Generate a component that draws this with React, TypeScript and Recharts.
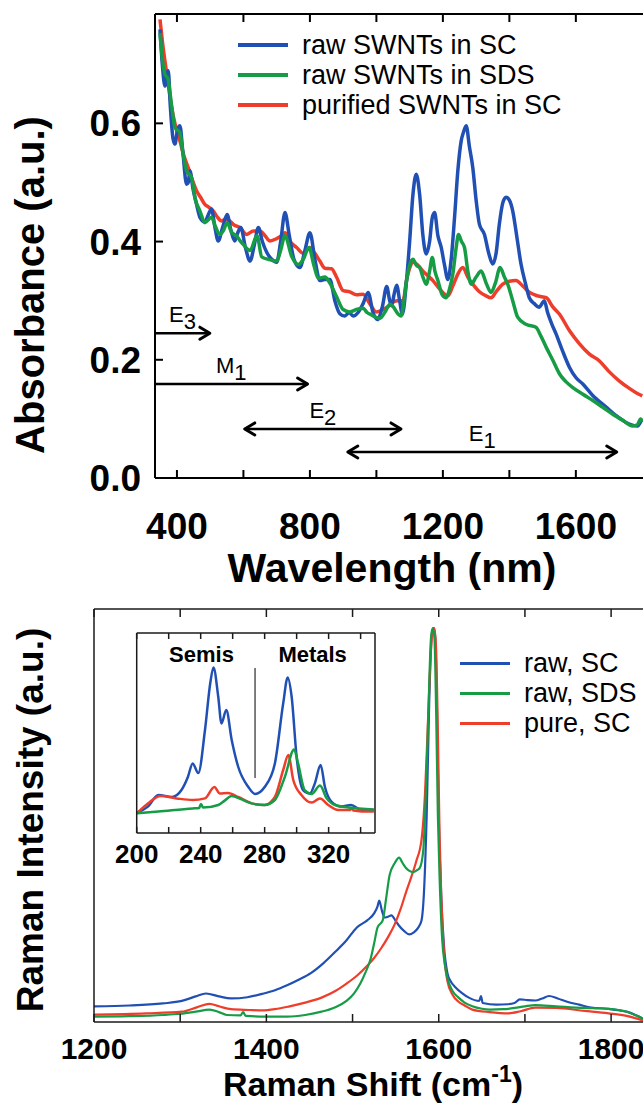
import React from 'react';
import { LineChart, Line, XAxis, YAxis, ReferenceLine, ReferenceDot, Legend } from 'recharts';

const FONT = "'Liberation Sans', Arial, Helvetica, sans-serif";
const BLUE = '#2050b4';
const GREEN = '#179c46';
const RED = '#ef3d2c';

// absorbance spectra: [wavelength nm, absorbance a.u.]
const absRawSC = [
  [349, 0.759], [356, 0.7], [364, 0.663], [370, 0.685], [374, 0.689], [380, 0.63], [388, 0.575], [394, 0.565],
  [402, 0.59], [409, 0.596], [418, 0.55], [429, 0.497], [434, 0.5], [439, 0.52], [448, 0.49], [459, 0.463],
  [470, 0.44], [484, 0.433], [494, 0.445], [504, 0.455], [514, 0.425], [524, 0.401], [538, 0.425], [551, 0.446],
  [562, 0.42], [574, 0.401], [583, 0.415], [592, 0.424], [606, 0.39], [620, 0.367], [633, 0.395], [645, 0.424],
  [657, 0.4], [670, 0.382], [685, 0.37], [700, 0.365], [712, 0.4], [725, 0.449], [738, 0.41], [752, 0.37],
  [770, 0.356], [785, 0.385], [800, 0.415], [815, 0.37], [830, 0.334], [845, 0.336], [860, 0.336], [875, 0.3],
  [890, 0.278], [905, 0.274], [918, 0.28], [930, 0.274], [945, 0.28], [960, 0.295], [975, 0.314], [990, 0.28],
  [1003, 0.268], [1018, 0.29], [1031, 0.324], [1040, 0.3], [1046, 0.292], [1053, 0.31], [1061, 0.326], [1070, 0.3],
  [1078, 0.277], [1090, 0.33], [1100, 0.4], [1110, 0.48], [1120, 0.514], [1130, 0.48], [1140, 0.41], [1150, 0.379],
  [1160, 0.4], [1168, 0.44], [1175, 0.449], [1185, 0.41], [1195, 0.39], [1205, 0.36], [1215, 0.336], [1225, 0.37],
  [1235, 0.44], [1245, 0.52], [1255, 0.57], [1262, 0.585], [1270, 0.596], [1280, 0.56], [1290, 0.525], [1300, 0.47],
  [1310, 0.429], [1325, 0.412], [1338, 0.38], [1350, 0.362], [1360, 0.38], [1370, 0.43], [1380, 0.465], [1390, 0.475],
  [1400, 0.47], [1410, 0.452], [1422, 0.41], [1435, 0.362], [1448, 0.33], [1460, 0.305], [1475, 0.295], [1490, 0.289],
  [1498, 0.295], [1505, 0.3], [1515, 0.28], [1528, 0.26], [1541, 0.243], [1560, 0.215], [1581, 0.187], [1600, 0.17],
  [1621, 0.159], [1650, 0.14], [1691, 0.12], [1720, 0.106], [1751, 0.094], [1786, 0.088], [1795, 0.095], [1800, 0.1],
];
const absRawSDS = [
  [349, 0.753], [356, 0.71], [364, 0.683], [373, 0.675], [384, 0.63], [394, 0.593], [409, 0.584], [418, 0.55],
  [429, 0.52], [444, 0.508], [456, 0.47], [469, 0.452], [484, 0.432], [504, 0.441], [516, 0.425], [529, 0.412],
  [541, 0.42], [551, 0.432], [565, 0.415], [579, 0.41], [589, 0.402], [600, 0.395], [620, 0.385], [641, 0.41],
  [655, 0.374], [675, 0.37], [700, 0.367], [712, 0.385], [725, 0.41], [745, 0.375], [765, 0.361], [780, 0.37],
  [797, 0.39], [812, 0.36], [825, 0.338], [845, 0.34], [860, 0.33], [880, 0.307], [900, 0.285], [920, 0.281],
  [940, 0.285], [960, 0.287], [972, 0.28], [985, 0.276], [998, 0.272], [1010, 0.27], [1025, 0.28], [1041, 0.294],
  [1050, 0.29], [1066, 0.277], [1074, 0.274], [1083, 0.3], [1091, 0.335], [1100, 0.36], [1110, 0.37], [1120, 0.36],
  [1130, 0.356], [1140, 0.34], [1150, 0.328], [1160, 0.35], [1168, 0.373], [1176, 0.35], [1185, 0.334], [1198, 0.31],
  [1210, 0.305], [1220, 0.32], [1230, 0.345], [1240, 0.39], [1247, 0.412], [1256, 0.4], [1265, 0.39], [1275, 0.35],
  [1285, 0.328], [1300, 0.34], [1315, 0.35], [1330, 0.33], [1345, 0.314], [1358, 0.33], [1372, 0.356], [1385, 0.34],
  [1395, 0.328], [1410, 0.3], [1425, 0.272], [1450, 0.26], [1480, 0.255], [1495, 0.24], [1511, 0.221], [1530, 0.2],
  [1551, 0.176], [1570, 0.163], [1591, 0.153], [1620, 0.142], [1651, 0.131], [1680, 0.12], [1711, 0.108], [1740, 0.098],
  [1771, 0.088], [1785, 0.09], [1795, 0.1], [1800, 0.095],
];
const absPureSC = [
  [349, 0.776], [356, 0.74], [364, 0.705], [374, 0.665], [384, 0.627], [396, 0.595], [409, 0.57], [421, 0.545],
  [434, 0.525], [446, 0.505], [459, 0.486], [471, 0.475], [484, 0.463], [496, 0.458], [509, 0.452], [521, 0.442],
  [534, 0.435], [547, 0.438], [559, 0.435], [572, 0.428], [589, 0.424], [610, 0.412], [630, 0.418], [650, 0.418],
  [665, 0.41], [680, 0.401], [700, 0.405], [715, 0.41], [725, 0.415], [740, 0.4], [760, 0.39], [780, 0.38],
  [800, 0.39], [815, 0.38], [830, 0.367], [845, 0.355], [865, 0.354], [880, 0.34], [900, 0.317], [920, 0.315],
  [940, 0.31], [960, 0.311], [980, 0.295], [1000, 0.281], [1020, 0.285], [1040, 0.292], [1051, 0.298], [1065, 0.3],
  [1080, 0.3], [1091, 0.335], [1100, 0.355], [1111, 0.365], [1125, 0.36], [1140, 0.35], [1155, 0.342], [1170, 0.334],
  [1190, 0.32], [1215, 0.308], [1230, 0.325], [1245, 0.345], [1260, 0.356], [1275, 0.34], [1290, 0.328], [1310, 0.315],
  [1330, 0.308], [1345, 0.305], [1360, 0.315], [1380, 0.328], [1400, 0.333], [1420, 0.334], [1440, 0.325], [1461, 0.314],
  [1485, 0.308], [1511, 0.305], [1530, 0.29], [1551, 0.277], [1580, 0.25], [1611, 0.227], [1640, 0.21], [1671, 0.198],
  [1700, 0.18], [1731, 0.164], [1760, 0.152], [1785, 0.143], [1800, 0.139],
];
const absXTicks = [400, 600, 800, 1000, 1200, 1400, 1600];
const absXLabels = [400, 800, 1200, 1600];
const absYTicks = [0, 0.2, 0.4, 0.6];
const absNames = ['raw SWNTs in SC', 'raw SWNTs in SDS', 'purified SWNTs in SC'];

// transition bands drawn as arrows under the spectra
const bandName = ['E', 'M', 'E', 'E'];
const bandSub = ['3', '1', '2', '1'];
const bandFrom = [334, 334, 604, 914];
const bandTo = [499, 793, 1074, 1723];
const bandLevel = [0.245, 0.159, 0.083, 0.044];
const bandBoth = [false, false, true, true];

// Raman G band: [shift cm-1, intensity a.u.]
const ramanRawSC = [
  [1200, 0.038], [1241, 0.04], [1280, 0.045], [1302, 0.051], [1318, 0.062], [1330, 0.069], [1345, 0.062], [1359, 0.057],
  [1378, 0.06], [1395, 0.068], [1410, 0.077], [1424, 0.089], [1438, 0.103], [1452, 0.119], [1466, 0.142], [1480, 0.17],
  [1493, 0.198], [1505, 0.229], [1517, 0.246], [1525, 0.263], [1529, 0.28], [1531, 0.294], [1534, 0.27], [1537, 0.253],
  [1541, 0.255], [1545, 0.258], [1550, 0.245], [1554, 0.233], [1560, 0.22], [1566, 0.212], [1571, 0.217], [1576, 0.228],
  [1580, 0.246], [1583, 0.32], [1586, 0.5], [1589, 0.78], [1592, 0.94], [1594, 0.954], [1596, 0.93], [1598, 0.75],
  [1600, 0.5], [1603, 0.3], [1606, 0.186], [1610, 0.119], [1614, 0.098], [1619, 0.085], [1627, 0.07], [1635, 0.059],
  [1647, 0.051], [1649, 0.063], [1651, 0.046], [1667, 0.042], [1680, 0.043], [1688, 0.046], [1694, 0.055], [1703, 0.053],
  [1712, 0.052], [1720, 0.057], [1728, 0.063], [1738, 0.057], [1749, 0.049], [1763, 0.042], [1777, 0.035], [1797, 0.032],
  [1810, 0.028], [1818, 0.025], [1830, 0.015], [1837, 0.008],
];
const ramanRawSDS = [
  [1200, 0.013], [1240, 0.014], [1281, 0.017], [1300, 0.02], [1318, 0.025], [1334, 0.03], [1345, 0.024], [1354, 0.017],
  [1370, 0.016], [1373, 0.024], [1376, 0.015], [1400, 0.013], [1424, 0.013], [1445, 0.017], [1464, 0.025], [1480, 0.036],
  [1493, 0.051], [1502, 0.07], [1509, 0.093], [1515, 0.12], [1521, 0.153], [1525, 0.19], [1529, 0.229], [1535, 0.246],
  [1539, 0.3], [1543, 0.356], [1549, 0.385], [1554, 0.398], [1558, 0.385], [1562, 0.373], [1566, 0.366], [1570, 0.363],
  [1575, 0.368], [1578, 0.373], [1582, 0.415], [1585, 0.55], [1588, 0.75], [1591, 0.93], [1593, 0.954], [1595, 0.93],
  [1597, 0.75], [1599, 0.5], [1601, 0.35], [1604, 0.2], [1607, 0.14], [1610, 0.107], [1616, 0.075], [1623, 0.059],
  [1630, 0.047], [1639, 0.038], [1650, 0.032], [1659, 0.03], [1675, 0.031], [1688, 0.034], [1700, 0.038], [1712, 0.041],
  [1736, 0.038], [1769, 0.034], [1797, 0.032], [1818, 0.025], [1830, 0.015], [1837, 0.008],
];
const ramanPureSC = [
  [1200, 0.018], [1261, 0.021], [1302, 0.025], [1320, 0.036], [1334, 0.044], [1345, 0.038], [1359, 0.031], [1380, 0.029],
  [1395, 0.028], [1410, 0.031], [1427, 0.038], [1445, 0.047], [1464, 0.059], [1480, 0.075], [1493, 0.093], [1505, 0.112],
  [1517, 0.136], [1525, 0.155], [1533, 0.178], [1541, 0.205], [1549, 0.237], [1556, 0.275], [1562, 0.314], [1568, 0.35],
  [1574, 0.39], [1580, 0.441], [1584, 0.55], [1587, 0.7], [1590, 0.86], [1593, 0.95], [1595, 0.954], [1597, 0.9],
  [1599, 0.7], [1601, 0.45], [1603, 0.3], [1606, 0.17], [1610, 0.1], [1616, 0.066], [1623, 0.049], [1630, 0.04],
  [1639, 0.03], [1659, 0.024], [1681, 0.021], [1695, 0.026], [1712, 0.035], [1736, 0.034], [1769, 0.027], [1797, 0.021],
  [1818, 0.015], [1837, 0.004],
];
const ramanXTicks = [1200, 1300, 1400, 1500, 1600, 1700, 1800];
const ramanXLabels = [1200, 1400, 1600, 1800];
const ramanNames = ['raw, SC', 'raw, SDS', 'pure, SC'];

// inset: radial breathing mode region
const rbmRawSC = [
  [200, 0.102], [207, 0.132], [213.5, 0.19], [222, 0.18], [228, 0.215], [232, 0.28], [235, 0.348], [238.5, 0.3],
  [242.7, 0.515], [246, 0.75], [248, 0.828], [251, 0.68], [253, 0.548], [256, 0.615], [259.4, 0.465], [263.5, 0.33],
  [269.8, 0.23], [274, 0.195], [280, 0.23], [286.4, 0.348], [291.6, 0.648], [294.4, 0.778], [296.9, 0.68], [300, 0.38],
  [304, 0.215], [308.3, 0.198], [311.4, 0.248], [315, 0.34], [317.7, 0.23], [321.9, 0.156], [328, 0.132], [334, 0.14],
  [340.6, 0.115], [348.3, 0.115],
];
const rbmRawSDS = [
  [200, 0.098], [213.5, 0.107], [235, 0.123], [239, 0.125], [240.2, 0.145], [241.5, 0.127], [251, 0.14], [255, 0.162],
  [259.4, 0.185], [265.6, 0.168], [271.9, 0.148], [280, 0.14], [286.4, 0.165], [292.7, 0.282], [298.4, 0.418], [300.9, 0.348],
  [305, 0.215], [309.4, 0.195], [314.6, 0.237], [318.8, 0.173], [324, 0.14], [332.3, 0.128], [348.3, 0.118],
];
const rbmPureSC = [
  [200, 0.098], [207, 0.148], [215, 0.185], [225, 0.173], [235, 0.165], [242.7, 0.173], [248.6, 0.23], [251.9, 0.198],
  [257, 0.2], [263.5, 0.18], [271.9, 0.148], [280, 0.14], [286.4, 0.18], [291.6, 0.315], [294.8, 0.39], [297.9, 0.265],
  [303, 0.19], [309.4, 0.152], [314.6, 0.173], [319.8, 0.14], [326, 0.115], [333.5, 0.115], [334.4, 0.125], [335.5, 0.112],
  [340.6, 0.108], [348.3, 0.108],
];
const rbmTicks = [200, 220, 240, 260, 280, 300, 320, 340];
const rbmLabels = [200, 240, 280, 320];
const rbmSplit = 274;

const pts = (a: number[][]) => a.map(([x, y]) => ({ x, y }));

const blank = () => <g />;

const xTick = (labels: number[], size: number, dy: number) => (p: any) => {
  const v = p.payload.value;
  if (!labels.includes(v)) return <g />;
  return (
    <text x={p.x} y={p.y + dy} textAnchor="middle" fontFamily={FONT} fontWeight="bold" fontSize={size} fill="#000">
      {v}
    </text>
  );
};

const absYTick = (p: any) => (
  <text x={p.x - 22} y={p.y + 13} textAnchor="end" fontFamily={FONT} fontWeight="bold" fontSize={37} fill="#000">
    {Number(p.payload.value).toFixed(1)}
  </text>
);

const legendBox = (names: string[], colors: string[], lw: number) => () => (
  <div style={{ fontFamily: FONT, fontSize: 27, color: '#000', whiteSpace: 'nowrap' }}>
    {names.map((n, i) => (
      <div key={n} style={{ display: 'flex', alignItems: 'center', height: 30 }}>
        <span style={{ display: 'inline-block', width: 50, height: lw, background: colors[i], marginRight: 14 }} />
        <span>{n}</span>
      </div>
    ))}
  </div>
);

const arrowShape = (i: number) => (p: any) => {
  const { x1, y1, x2, y2 } = p;
  const head = (x: number, y: number, dir: number) => (
    <polyline
      points={`${x - dir * 10},${y - 6} ${x},${y} ${x - dir * 10},${y + 6}`}
      fill="none"
      stroke="#000"
      strokeWidth={3}
      strokeLinecap="round"
      strokeLinejoin="round"
    />
  );
  return (
    <g>
      <line x1={x1} y1={y1} x2={x2} y2={y2} stroke="#000" strokeWidth={2.5} />
      {head(x2, y2, 1)}
      {bandBoth[i] && head(x1, y1, -1)}
      <text x={(x1 + x2) / 2} y={y1 - 11} textAnchor="middle" fontFamily={FONT} fontSize={22} fill="#000">
        {bandName[i]}
        <tspan dy={7}>{bandSub[i]}</tspan>
      </text>
    </g>
  );
};

const frame = { stroke: '#000', strokeWidth: 2 };

function AbsorbanceChart() {
  return (
    <LineChart width={643} height={600} margin={{ top: 0, right: 0, bottom: 0, left: 0 }}>
      <XAxis
        xAxisId="b"
        type="number"
        dataKey="x"
        domain={[334, 1802]}
        allowDataOverflow
        ticks={absXTicks}
        interval={0}
        height={122}
        tickSize={-8}
        tickMargin={0}
        axisLine={frame}
        tickLine={frame}
        tick={xTick(absXLabels, 37, 69)}
        label={(p: any) => (
          <text
            x={p.viewBox.x + p.viewBox.width / 2 - 7}
            y={p.viewBox.y + 104}
            textAnchor="middle"
            fontFamily={FONT}
            fontWeight="bold"
            fontSize={41}
            fill="#000"
          >
            Wavelength (nm)
          </text>
        )}
      />
      <XAxis
        xAxisId="t"
        orientation="top"
        type="number"
        dataKey="x"
        domain={[334, 1802]}
        allowDataOverflow
        ticks={absXTicks}
        interval={0}
        height={14}
        tickSize={-8}
        axisLine={frame}
        tickLine={frame}
        tick={blank}
      />
      <YAxis
        yAxisId="l"
        type="number"
        domain={[0, 0.785]}
        allowDataOverflow
        ticks={absYTicks}
        interval={0}
        width={155}
        tickSize={-8}
        tickMargin={0}
        axisLine={frame}
        tickLine={frame}
        tick={absYTick}
        label={(p: any) => {
          const cx = p.viewBox.x + 30;
          const cy = p.viewBox.y + 271;
          return (
            <text
              x={cx}
              y={cy}
              transform={`rotate(-90, ${cx}, ${cy})`}
              textAnchor="middle"
              dominantBaseline="central"
              fontFamily={FONT}
              fontWeight="bold"
              fontSize={40}
              fill="#000"
            >
              Absorbance (a.u.)
            </text>
          );
        }}
      />
      <YAxis
        yAxisId="r"
        orientation="right"
        type="number"
        domain={[0, 0.785]}
        allowDataOverflow
        ticks={absYTicks}
        interval={0}
        width={0}
        tickSize={-8}
        axisLine={frame}
        tickLine={frame}
        tick={blank}
      />
      {bandFrom.map((f, i) => (
        <ReferenceLine
          key={i}
          xAxisId="b"
          yAxisId="l"
          ifOverflow="visible"
          segment={[
            { x: f, y: bandLevel[i] },
            { x: bandTo[i], y: bandLevel[i] },
          ]}
          shape={arrowShape(i)}
        />
      ))}
      <Line xAxisId="b" yAxisId="l" data={pts(absPureSC)} dataKey="y" type="monotone" stroke={RED} strokeWidth={3.5} dot={false} activeDot={false} isAnimationActive={false} />
      <Line xAxisId="b" yAxisId="l" data={pts(absRawSC)} dataKey="y" type="monotone" stroke={BLUE} strokeWidth={3.5} dot={false} activeDot={false} isAnimationActive={false} />
      <Line xAxisId="b" yAxisId="l" data={pts(absRawSDS)} dataKey="y" type="monotone" stroke={GREEN} strokeWidth={3.5} dot={false} activeDot={false} isAnimationActive={false} />
      <Legend
        layout="vertical"
        align="center"
        verticalAlign="middle"
        content={legendBox(absNames, [BLUE, GREEN, RED], 4)}
        wrapperStyle={{ left: 238, top: 30, width: 380 }}
      />
    </LineChart>
  );
}

const thin = { stroke: '#1a1a1a', strokeWidth: 1.5 };

function RamanChart() {
  return (
    <LineChart width={643} height={503} margin={{ top: 0, right: 0, bottom: 0, left: 0 }}>
      <XAxis
        xAxisId="b"
        type="number"
        dataKey="x"
        domain={[1200, 1837]}
        allowDataOverflow
        ticks={ramanXTicks}
        interval={0}
        height={81}
        tickSize={-8}
        tickMargin={0}
        axisLine={thin}
        tickLine={thin}
        tick={xTick(ramanXLabels, 30, 45)}
        label={(p: any) => (
          <text
            x={p.viewBox.x + 279}
            y={p.viewBox.y + 74}
            textAnchor="middle"
            fontFamily={FONT}
            fontWeight="bold"
            fontSize={34}
            fill="#000"
          >
            Raman Shift (cm
            <tspan fontSize={23} dy={-14}>-1</tspan>
            <tspan dy={14}>)</tspan>
          </text>
        )}
      />
      <XAxis
        xAxisId="t"
        orientation="top"
        type="number"
        dataKey="x"
        domain={[1200, 1837]}
        allowDataOverflow
        ticks={ramanXTicks}
        interval={0}
        height={9}
        tickSize={-8}
        axisLine={thin}
        tickLine={thin}
        tick={blank}
      />
      <YAxis
        yAxisId="l"
        type="number"
        domain={[0, 1]}
        allowDataOverflow
        width={94}
        axisLine={thin}
        tickLine={false}
        tick={false}
        label={(p: any) => {
          const cx = p.viewBox.x + 30;
          const cy = p.viewBox.y + 211;
          return (
            <text
              x={cx}
              y={cy}
              transform={`rotate(-90, ${cx}, ${cy})`}
              textAnchor="middle"
              dominantBaseline="central"
              fontFamily={FONT}
              fontWeight="bold"
              fontSize={37}
              fill="#000"
            >
              Raman Intensity (a.u.)
            </text>
          );
        }}
      />
      <Line xAxisId="b" yAxisId="l" data={pts(ramanRawSC)} dataKey="y" type="monotone" stroke={BLUE} strokeWidth={2.2} dot={false} activeDot={false} isAnimationActive={false} />
      <Line xAxisId="b" yAxisId="l" data={pts(ramanPureSC)} dataKey="y" type="monotone" stroke={RED} strokeWidth={2.2} dot={false} activeDot={false} isAnimationActive={false} />
      <Line xAxisId="b" yAxisId="l" data={pts(ramanRawSDS)} dataKey="y" type="monotone" stroke={GREEN} strokeWidth={2.2} dot={false} activeDot={false} isAnimationActive={false} />
      <Legend
        layout="vertical"
        align="center"
        verticalAlign="middle"
        content={legendBox(ramanNames, [BLUE, GREEN, RED], 3)}
        wrapperStyle={{ left: 460, top: 48, width: 200 }}
      />
    </LineChart>
  );
}

const boldText = (label: string) => (p: any) => (
  <text x={p.cx} y={p.cy} textAnchor="middle" fontFamily={FONT} fontWeight="bold" fontSize={22} fill="#000">
    {label}
  </text>
);

function RbmInset() {
  return (
    <LineChart width={290} height={260} margin={{ top: 0, right: 0, bottom: 0, left: 0 }}>
      <XAxis
        xAxisId="b"
        type="number"
        dataKey="x"
        domain={[200, 349]}
        allowDataOverflow
        ticks={rbmTicks}
        interval={0}
        height={47}
        tickSize={-6}
        tickMargin={0}
        axisLine={thin}
        tickLine={thin}
        tick={xTick(rbmLabels, 26, 36)}
      />
      <XAxis
        xAxisId="t"
        orientation="top"
        type="number"
        dataKey="x"
        domain={[200, 349]}
        allowDataOverflow
        ticks={rbmTicks}
        interval={0}
        height={13}
        tickSize={-6}
        axisLine={thin}
        tickLine={thin}
        tick={blank}
      />
      <YAxis yAxisId="l" type="number" domain={[0, 1]} allowDataOverflow width={36.7} axisLine={thin} tickLine={false} tick={false} />
      <YAxis yAxisId="r" orientation="right" type="number" domain={[0, 1]} allowDataOverflow width={15} axisLine={thin} tickLine={false} tick={false} />
      <ReferenceLine
        xAxisId="b"
        yAxisId="l"
        ifOverflow="visible"
        segment={[
          { x: rbmSplit, y: 0.275 },
          { x: rbmSplit, y: 0.825 },
        ]}
        stroke="#555"
        strokeWidth={1.5}
      />
      <ReferenceDot xAxisId="b" yAxisId="l" x={240.5} y={0.855} ifOverflow="visible" shape={boldText('Semis')} />
      <ReferenceDot xAxisId="b" yAxisId="l" x={310} y={0.855} ifOverflow="visible" shape={boldText('Metals')} />
      <Line xAxisId="b" yAxisId="l" data={pts(rbmRawSC)} dataKey="y" type="monotone" stroke={BLUE} strokeWidth={2.5} dot={false} activeDot={false} isAnimationActive={false} />
      <Line xAxisId="b" yAxisId="l" data={pts(rbmPureSC)} dataKey="y" type="monotone" stroke={RED} strokeWidth={2.5} dot={false} activeDot={false} isAnimationActive={false} />
      <Line xAxisId="b" yAxisId="l" data={pts(rbmRawSDS)} dataKey="y" type="monotone" stroke={GREEN} strokeWidth={2.5} dot={false} activeDot={false} isAnimationActive={false} />
    </LineChart>
  );
}

export default function App() {
  return (
    <div style={{ position: 'absolute', left: 0, top: 0, width: 643, height: 1103, background: '#fff', overflow: 'hidden' }}>
      <div style={{ position: 'absolute', left: 0, top: 0 }}>
        <AbsorbanceChart />
      </div>
      <div style={{ position: 'absolute', left: 0, top: 600 }}>
        <RamanChart />
      </div>
      <div style={{ position: 'absolute', left: 100, top: 620 }}>
        <RbmInset />
      </div>
    </div>
  );
}
